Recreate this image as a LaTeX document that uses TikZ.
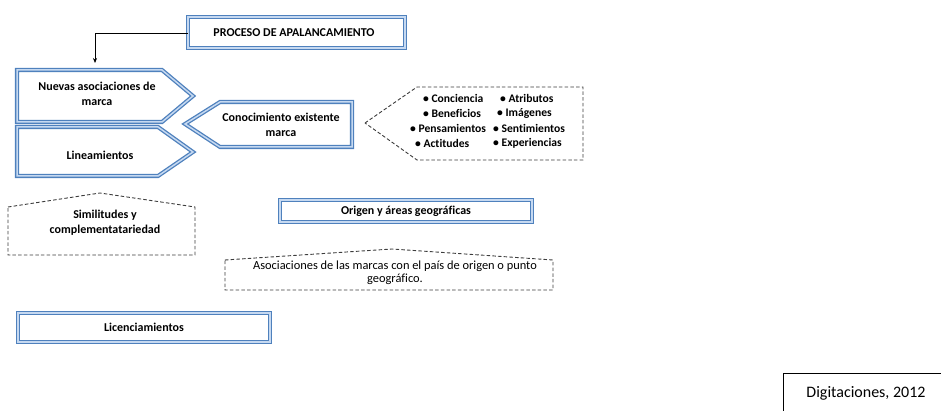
\documentclass[tikz,border=0pt]{standalone}
\usepackage{fontspec}
\setmainfont[Ligatures={NoCommon}]{Carlito}
\usetikzlibrary{arrows.meta}
\definecolor{boxblue}{RGB}{79,129,189}
\definecolor{paleblue}{RGB}{198,217,241}
\definecolor{dashgray}{RGB}{60,60,60}
\tikzset{
  bluebox/.style={draw=boxblue, line width=1.3pt, double=paleblue, double distance=1.5pt, fill=white, line join=miter},
  dashbox/.style={draw=dashgray, line width=0.9pt, dash pattern=on 3.5pt off 2.2pt},
  btxt/.style={font=\fontsize{12}{15}\selectfont\bfseries, align=center, inner sep=0pt},
  ntxt/.style={font=\fontsize{12.4}{13.2}\selectfont, align=center, inner sep=0pt},
  itxt/.style={font=\fontsize{11.6}{14}\selectfont\bfseries, anchor=west, inner sep=0pt},
}
\begin{document}
\begin{tikzpicture}[x=1pt,y=-1pt]
\useasboundingbox (0,0) rectangle (941,411);
% top box
\draw[bluebox] (188,17) rectangle (405,48);
\node[btxt] (proc) at (294,33) {PROCESO DE APALANCAMIENTO};
\coordinate (procW) at (188,33);
\coordinate (nuevasTop) at (95,63);
\draw[line width=0.6pt, -{Stealth[length=5pt,width=4pt]}] (procW) -| (nuevasTop);
% left pentagons
\draw[bluebox] (17,70) -- (162,70) -- (193,96) -- (162,122) -- (17,122) -- cycle;
\node[btxt] (nuevas) at (97,94) {Nuevas asociaciones de\\marca};
\draw[bluebox] (17,127) -- (158,127) -- (193,152) -- (158,176) -- (17,176) -- cycle;
\node[btxt] (linea) at (100,155) {Lineamientos};
% conocimiento
\draw[bluebox] (185,124) -- (220,102) -- (352,102) -- (352,147) -- (220,147) -- cycle;
\node[btxt] (cono) at (281,125) {Conocimiento existente\\marca};
% dashed list
\draw[dashbox] (365,123) -- (417,87) -- (583,87) -- (583,160) -- (417,160) -- cycle;
\node[itxt] (i1) at (423,98) {• Conciencia};
\node[itxt] (i2) at (423,113) {• Beneficios};
\node[itxt] (i3) at (410,128) {• Pensamientos};
\node[itxt] (i4) at (415,143) {• Actitudes};
\node[itxt] (j1) at (500,98) {• Atributos};
\node[itxt] (j2) at (497,113) {• Imágenes};
\node[itxt] (j3) at (493,128) {• Sentimientos};
\node[itxt] (j4) at (493,143) {• Experiencias};
% similitudes
\draw[dashbox] (8,207) -- (100,193) -- (195,207) -- (195,255) -- (8,255) -- cycle;
\node[btxt] (simil) at (105,223) {Similitudes y\\complementatariedad};
% origen
\draw[bluebox] (280,200) rectangle (532,222);
\node[btxt] (origen) at (406,211) {Origen y áreas geográficas};
\draw[dashbox] (225,260) -- (392,249) -- (553,260) -- (553,290) -- (225,290) -- cycle;
\node[ntxt] (asoc) at (395,273) {Asociaciones de las marcas con el país de origen o punto\\geográfico.};
% licenciamientos
\draw[bluebox] (18,313) rectangle (270,342);
\node[btxt] (lic) at (144,327.5) {Licenciamientos};
% source box
\draw[line width=0.7pt] (945,373) -- (783,373) -- (783,415);
\node[font=\fontsize{16}{18}\selectfont, inner sep=0pt] (src) at (866,393) {Digitaciones, 2012};
\end{tikzpicture}
\end{document}
